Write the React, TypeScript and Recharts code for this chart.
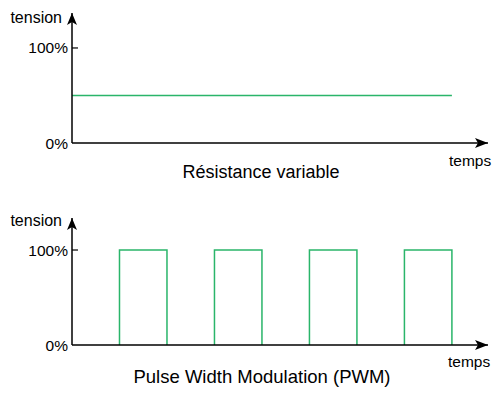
import React from "react";
import { LineChart, Line, XAxis, YAxis, ReferenceDot, ReferenceLine } from "recharts";

// Top chart: variable resistance -> constant 50% tension
const resTime = [0, 8];
const resValue = [50, 50];

// Bottom chart: PWM pulses (start times, width 1, level 100%)
const pulseStarts = [1, 3, 5, 7];
const pulseWidth = 1;
const pulseLevel = 100;

const yTicks = [0, 100];
const titles = ["Résistance variable", "Pulse Width Modulation (PWM)"];
const yName = "tension";
const xName = "temps";

const GREEN = "#2ab56a";
const FONT = "'Liberation Sans', Arial, sans-serif";

const resData = resTime.map((t, i) => ({ t, v: resValue[i] }));
const pwmData: { t: number; v: number | null }[] = [];
pulseStarts.forEach((s, i) => {
  if (i > 0) pwmData.push({ t: s - 0.5, v: null });
  pwmData.push({ t: s, v: 0 });
  pwmData.push({ t: s, v: pulseLevel });
  pwmData.push({ t: s + pulseWidth, v: pulseLevel });
  pwmData.push({ t: s + pulseWidth, v: 0 });
});

const ArrowRight = (p: any) => {
  const { cx, cy } = p;
  return (
    <path
      d={`M${cx},${cy} L${cx - 13},${cy - 5} L${cx - 10},${cy} L${cx - 13},${cy + 5} Z`}
      fill="#000"
    />
  );
};
const ArrowUp = (p: any) => {
  const { cx, cy } = p;
  return (
    <path
      d={`M${cx},${cy} L${cx - 5},${cy + 12} L${cx},${cy + 9} L${cx + 5},${cy + 12} Z`}
      fill="#000"
    />
  );
};

const XMAX = 8.76;

function Panel({
  data,
  yMax,
  top,
  marginTop,
  plotH,
}: {
  data: any[];
  yMax: number;
  top: number;
  marginTop: number;
  plotH: number;
}) {
  return (
    <div style={{ position: "absolute", left: 0, top }}>
      <LineChart
        width={500}
        height={190}
        data={data}
        margin={{ top: marginTop, right: 12, left: 0, bottom: 0 }}
      >
        <XAxis
          dataKey="t"
          type="number"
          domain={[0, XMAX]}
          height={190 - marginTop - plotH}
          axisLine={{ stroke: "#000", strokeWidth: 1.5 }}
          tickLine={false}
          tick={false}
        />
        <YAxis
          type="number"
          domain={[0, yMax]}
          ticks={yTicks}
          width={72}
          axisLine={{ stroke: "#000", strokeWidth: 1.5 }}
          tickLine={false}
          tickSize={0}
          tickMargin={4}
          tick={{ fill: "#000", fontSize: 15.5, fontFamily: FONT }}
          tickFormatter={(v: number) => `${v}%`}
          interval={0}
        />
        <ReferenceLine
          segment={[
            { x: 0, y: 100 },
            { x: 0.126, y: 100 },
          ]}
          stroke="#000"
          strokeWidth={1.2}
          ifOverflow="visible"
        />
        <Line
          dataKey="v"
          type="linear"
          stroke={GREEN}
          strokeWidth={1.5}
          dot={false}
          connectNulls={false}
          isAnimationActive={false}
        />
        <ReferenceDot x={XMAX} y={0} r={0} shape={ArrowRight} ifOverflow="visible" />
        <ReferenceDot x={0} y={yMax} r={0} shape={ArrowUp} ifOverflow="visible" />
      </LineChart>
    </div>
  );
}

const txt = (
  s: string,
  left: number,
  top: number,
  width: number,
  size: number,
  align: "left" | "right" | "center"
) => (
  <div
    style={{
      position: "absolute",
      left,
      top,
      width,
      fontSize: size,
      lineHeight: "20px",
      textAlign: align,
      fontFamily: FONT,
      color: "#000",
      whiteSpace: "nowrap",
    }}
  >
    {s}
  </div>
);

export default function App() {
  return (
    <div
      style={{
        position: "absolute",
        left: 0,
        top: 0,
        width: 500,
        height: 393,
        background: "#fff",
        overflow: "hidden",
      }}
    >
      <Panel data={resData} yMax={136.8} top={0} marginTop={13} plotH={130} />
      <Panel data={pwmData} yMax={133.7} top={200} marginTop={18} plotH={127} />
      {txt(yName, 0, 8, 62, 16, "right")}
      {txt(xName, 449, 151, 45, 15.5, "left")}
      {txt(titles[0], 111, 162, 300, 18, "center")}
      {txt(yName, 0, 211, 62, 16, "right")}
      {txt(xName, 448, 352, 45, 15.5, "left")}
      {txt(titles[1], 112, 367, 300, 18.5, "center")}
    </div>
  );
}
